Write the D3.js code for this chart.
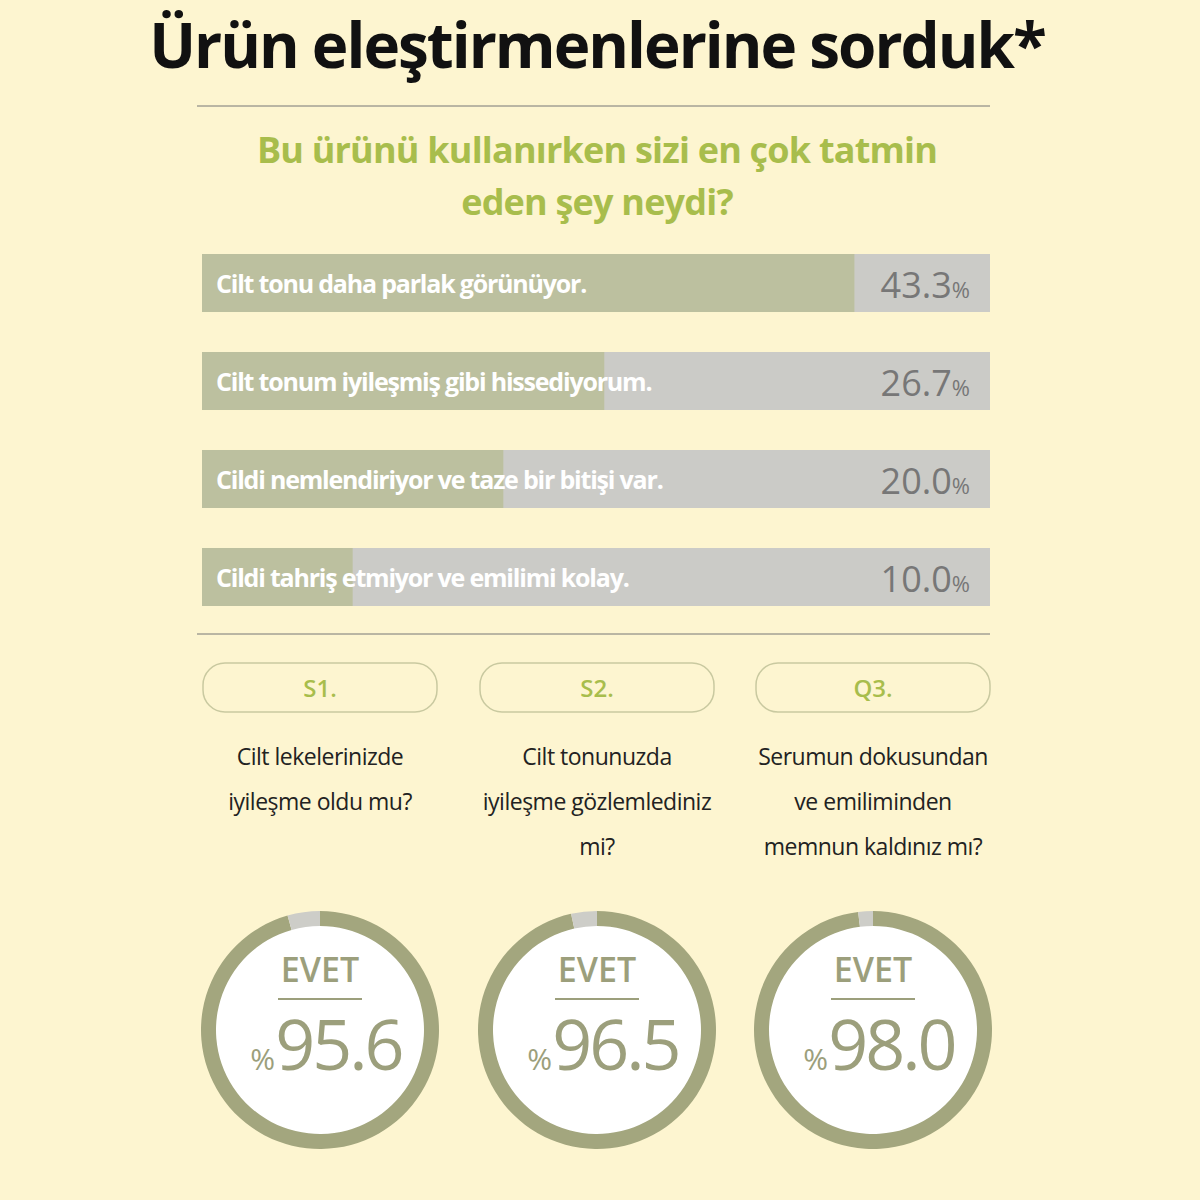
<!DOCTYPE html>
<html><head><meta charset="utf-8">
<script src="https://cdn.jsdelivr.net/npm/d3@7"></script>
<style>body{margin:0;background:#fdf5d0}</style></head>
<body><svg id="c" width="1200" height="1200"></svg>
<script>
// bar data
var answers = ["Cilt tonu daha parlak görünüyor.", "Cilt tonum iyileşmiş gibi hissediyorum.", "Cildi nemlendiriyor ve taze bir bitişi var.", "Cildi tahriş etmiyor ve emilimi kolay."];
var shares = [43.3, 26.7, 20.0, 10.0];
// question data
var qLabels = ["S1.", "S2.", "Q3."];
var qTexts = [["Cilt lekelerinizde", "iyileşme oldu mu?"], ["Cilt tonunuzda", "iyileşme gözlemlediniz", "mi?"], ["Serumun dokusundan", "ve emiliminden", "memnun kaldınız mı?"]];
var yesPct = [95.6, 96.5, 98.0];

var svg = d3.select("#c");
var font = "'Open Sans', sans-serif";
svg.append("rect").attr("width", 1200).attr("height", 1200).attr("fill", "#fdf5d0");

svg.append("text").attr("x", 597).attr("y", 68).attr("text-anchor", "middle")
    .attr("font-family", font).attr("font-weight", 700).attr("font-size", 62)
    .attr("letter-spacing", -2).attr("fill", "#111").text("Ürün eleştirmenlerine sorduk*");
svg.append("line").attr("x1", 197).attr("x2", 990).attr("y1", 106).attr("y2", 106).attr("stroke", "#777");
svg.append("line").attr("x1", 197).attr("x2", 990).attr("y1", 634).attr("y2", 634).attr("stroke", "#777");

svg.selectAll(".sub").data(["Bu ürünü kullanırken sizi en çok tatmin", "eden şey neydi?"]).enter()
    .append("text").attr("x", 597).attr("y", function(d, i) { return 163 + i * 52; })
    .attr("text-anchor", "middle").attr("font-family", font).attr("font-weight", 700)
    .attr("font-size", 36).attr("letter-spacing", -0.8).attr("fill", "#a8bd4c").text(function(d) { return d; });

// bars
var x = d3.scaleLinear().domain([0, 52.3]).range([202, 990]);
var y = d3.scaleBand().domain(answers).range([254, 606]).paddingInner(0.408).paddingOuter(0);
var g = svg.selectAll(".bar").data(answers).enter().append("g");
g.append("rect").attr("x", 202).attr("width", 788).attr("y", function(d) { return y(d); })
    .attr("height", y.bandwidth()).attr("fill", "#cbcbc7");
g.append("rect").attr("x", 202).attr("width", function(d, i) { return x(shares[i]) - 202; })
    .attr("y", function(d) { return y(d); }).attr("height", y.bandwidth()).attr("fill", "#bcc09f");
g.append("text").attr("x", 216).attr("y", function(d) { return y(d) + 39; })
    .attr("font-family", font).attr("font-weight", 700).attr("font-size", 25).attr("letter-spacing", -1.2)
    .attr("fill", "#fff").text(function(d) { return d; });
var pt = g.append("text").attr("x", 970).attr("y", function(d) { return y(d) + 44; })
    .attr("text-anchor", "end").attr("font-family", font).attr("fill", "#777");
pt.append("tspan").attr("font-size", 36).text(function(d, i) { return shares[i].toFixed(1); });
pt.append("tspan").attr("font-size", 22).text("%");

// questions
var cx = [320, 597, 873];
var q = svg.selectAll(".q").data(qLabels).enter().append("g");
q.append("rect").attr("x", function(d, i) { return cx[i] - 117; }).attr("y", 663).attr("width", 234).attr("height", 49)
    .attr("rx", 22).attr("fill", "none").attr("stroke", "#c9c9a0").attr("stroke-width", 1.5);
q.append("text").attr("x", function(d, i) { return cx[i]; }).attr("y", 697).attr("text-anchor", "middle")
    .attr("font-family", font).attr("font-weight", 600).attr("font-size", 24).attr("fill", "#a8bd4c").text(function(d) { return d; });
q.each(function(d, i) {
  d3.select(this).selectAll(".t").data(qTexts[i]).enter().append("text")
    .attr("x", cx[i]).attr("y", function(t, j) { return 765 + j * 45; }).attr("text-anchor", "middle")
    .attr("font-family", font).attr("font-size", 23).attr("letter-spacing", -0.5).attr("fill", "#222").text(function(t) { return t; });
});

// donuts
var arc = d3.arc().innerRadius(104).outerRadius(119);
var pie = d3.pie().sort(null);
q.each(function(d, i) {
  var dg = d3.select(this).append("g").attr("transform", "translate(" + cx[i] + ",1030)");
  dg.append("circle").attr("r", 110).attr("fill", "#fff");
  dg.selectAll("path").data(pie([yesPct[i], 100 - yesPct[i]])).enter().append("path")
    .attr("d", arc).attr("fill", function(s, k) { return k ? "#cdcdc8" : "#a3a67e"; });
  dg.append("text").attr("y", -48).attr("text-anchor", "middle").attr("font-family", font).attr("font-weight", 600)
    .attr("font-size", 34).attr("fill", "#9c9f7c").text("EVET");
  dg.append("line").attr("x1", -42).attr("x2", 42).attr("y1", -31).attr("y2", -31).attr("stroke", "#9c9f7c").attr("stroke-width", 2);
  var t = dg.append("text").attr("x", 6).attr("y", 40).attr("text-anchor", "middle").attr("font-family", font).attr("fill", "#9c9f7c");
  t.append("tspan").attr("font-size", 30).text("%");
  t.append("tspan").attr("font-size", 70).attr("letter-spacing", -3).text(yesPct[i].toFixed(1));
});
</script></body></html>
